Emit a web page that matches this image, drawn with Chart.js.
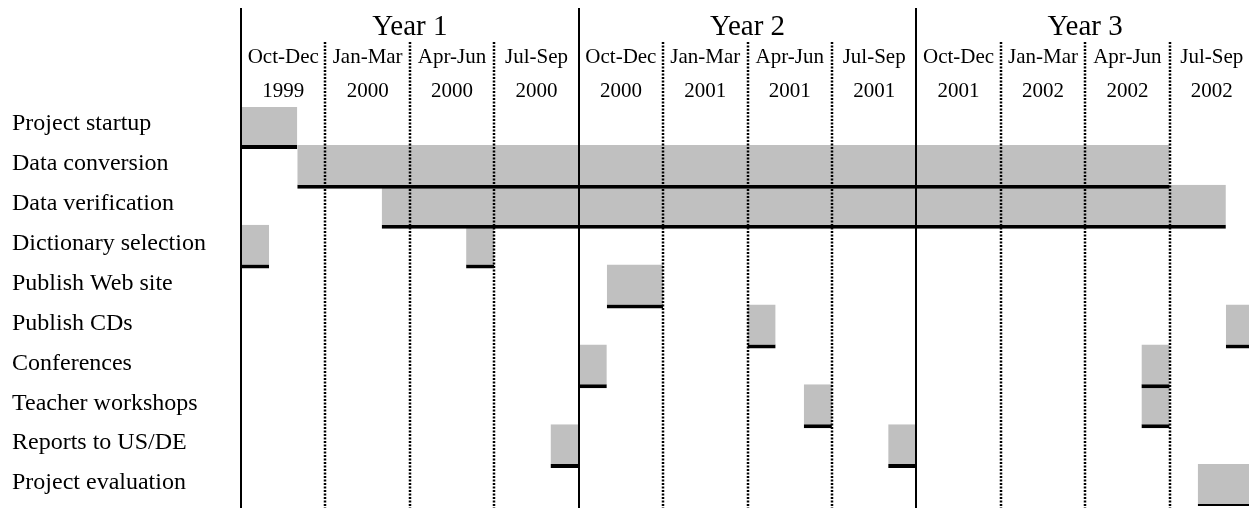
<!DOCTYPE html>
<html>
<head>
<meta charset="utf-8">
<script src="https://cdn.jsdelivr.net/npm/chart.js@4/dist/chart.umd.min.js"></script>
<style>
  html, body { margin: 0; padding: 0; overflow: hidden; background: #fff; }
  #gantt { position: absolute; left: 0; top: 0; }
</style>
</head>
<body>
<canvas id="gantt" width="1256" height="508"></canvas>
<script>
// Data (months from Oct 1999)
const tasks = [
  "Project startup",
  "Data conversion",
  "Data verification",
  "Dictionary selection",
  "Publish Web site",
  "Publish CDs",
  "Conferences",
  "Teacher workshops",
  "Reports to US/DE",
  "Project evaluation",
];
const firstSpan = [[0, 2], [2, 33], [5, 35], [0, 1], [13, 15], [18, 19], [12, 13], [20, 21], [11, 12], [34, 36]];
const secondSpan = [null, null, null, [8, 9], null, [35, 36], [32, 33], [32, 33], [23, 24], null];

const yearTitles = ["Year 1", "Year 2", "Year 3"];
const quarterNames = ["Oct-Dec", "Jan-Mar", "Apr-Jun", "Jul-Sep", "Oct-Dec", "Jan-Mar", "Apr-Jun", "Jul-Sep", "Oct-Dec", "Jan-Mar", "Apr-Jun", "Jul-Sep"];
const quarterYears = ["1999", "2000", "2000", "2000", "2000", "2001", "2001", "2001", "2001", "2002", "2002", "2002"];

const serif = "'Liberation Serif', 'Times New Roman', serif";

// rows are fed bottom-up so upper rows paint over the overlap of lower ones
const rev = (a) => a.slice().reverse();

const barStyle = {
  backgroundColor: "#c0c0c0",
  borderColor: "#000",
  borderWidth: { top: 0, right: 0, bottom: 4, left: 0 },
  borderSkipped: false,
  barPercentage: 1.1,
  categoryPercentage: 1,
  grouped: false,
};

// Header labels + quarter/year lines
const timeline = {
  id: "timeline",
  afterDatasetsDraw(chart) {
    const ctx = chart.ctx;
    const x = chart.scales.x;
    ctx.save();
    ctx.strokeStyle = "#000";
    for (let q = 0; q < quarterNames.length; q++) {
      const px = Math.round(x.getPixelForValue(q * 3));
      ctx.beginPath();
      if (q % 4 === 0) {
        ctx.lineWidth = 2;
        ctx.setLineDash([]);
        ctx.moveTo(px, 8);
      } else {
        ctx.lineWidth = 2.5;
        ctx.setLineDash([2, 1.5]);
        ctx.moveTo(px, 42);
      }
      ctx.lineTo(px, 508);
      ctx.stroke();
    }
    ctx.setLineDash([]);

    ctx.fillStyle = "#000";
    ctx.textAlign = "center";
    ctx.textBaseline = "alphabetic";
    ctx.font = "29px " + serif;
    yearTitles.forEach((t, i) => {
      ctx.fillText(t, x.getPixelForValue(i * 12 + 6), 35);
    });
    ctx.font = "21px " + serif;
    quarterNames.forEach((t, i) => {
      const cx = x.getPixelForValue(i * 3 + 1.5);
      ctx.fillText(t, cx, 63);
      ctx.fillText(quarterYears[i], cx, 97);
    });
    ctx.restore();
  },
};

new Chart(document.getElementById("gantt"), {
  type: "bar",
  data: {
    labels: rev(tasks),
    datasets: [
      { data: rev(firstSpan), ...barStyle },
      { data: rev(secondSpan), ...barStyle },
    ],
  },
  options: {
    indexAxis: "y",
    responsive: false,
    animation: false,
    layout: { padding: { left: 12, top: 107, right: 2, bottom: 2 } },
    plugins: { legend: { display: false }, tooltip: { enabled: false } },
    scales: {
      x: { type: "linear", min: 0, max: 36, display: false },
      y: {
        reverse: true,
        grid: { display: false },
        border: { display: false },
        ticks: {
          crossAlign: "far",
          labelOffset: -3,
          color: "#000",
          font: { family: serif, size: 24 },
        },
        afterFit(scale) {
          scale.width = 229;
          scale.paddingTop = 0;
          scale.paddingBottom = 0;
        },
      },
    },
  },
  plugins: [timeline],
});
</script>
</body>
</html>
